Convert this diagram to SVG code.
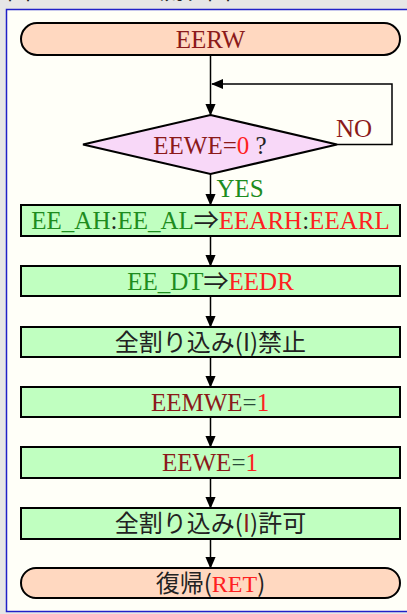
<svg xmlns="http://www.w3.org/2000/svg" width="407" height="614" viewBox="0 0 407 614">
<defs>
<marker id="ah" markerWidth="12" markerHeight="14" refX="13" refY="6" orient="auto" markerUnits="userSpaceOnUse" viewBox="0 0 14 12">
<path d="M0,0 L14,6 L0,12 Z" fill="#000"/>
</marker>
</defs>
<style>
text{font-family:"Liberation Serif","Noto Sans CJK JP",serif;font-size:25px;text-anchor:middle}
.cjk{font-family:"Noto Sans CJK JP","Liberation Serif",sans-serif;font-size:24px}
.term{fill:#ffd8c0;stroke:#000;stroke-width:2}
.box{fill:#c0ffc0;stroke:#000;stroke-width:2}
.dia{fill:#f8d8f8;stroke:#000;stroke-width:2}
.dr{fill:#8b1a1a}
.rd{fill:#ff2020}
.gn{fill:#1e8c1e}
.bk{fill:#222}
.conn line,.conn polyline{stroke:#000;stroke-width:1.5;fill:none}
</style>
<rect width="407" height="614" fill="#e6e6e6"/>
<text class="cjk bk" x="19" y="-1" font-size="24">図</text>
<text class="cjk bk" x="195" y="-1" font-size="24">流れ図</text>
<rect x="6.5" y="9.5" width="410" height="602" fill="#fffff8" stroke="#2020c8" stroke-width="1.5"/>

<g id="conn" class="conn">
<line x1="210.5" y1="56" x2="210.5" y2="115" marker-end="url(#ah)"/>
<polyline points="337,144.5 392,144.5 392,84 212,84" marker-end="url(#ah)"/>
<line x1="210.5" y1="174" x2="210.5" y2="205" marker-end="url(#ah)"/>
<line x1="210.5" y1="236" x2="210.5" y2="266" marker-end="url(#ah)"/>
<line x1="210.5" y1="296" x2="210.5" y2="327" marker-end="url(#ah)"/>
<line x1="210.5" y1="357" x2="210.5" y2="387" marker-end="url(#ah)"/>
<line x1="210.5" y1="417" x2="210.5" y2="447" marker-end="url(#ah)"/>
<line x1="210.5" y1="478" x2="210.5" y2="508" marker-end="url(#ah)"/>
<line x1="210.5" y1="539" x2="210.5" y2="568" marker-end="url(#ah)"/>
<text class="dr" x="354" y="137" font-size="24">NO</text>
<text class="gn" x="240" y="197" font-size="24">YES</text>
</g>

<g id="start">
<rect class="term" x="21" y="23" width="379" height="32" rx="16"/>
<text class="dr" x="210.5" y="48">EERW</text>
</g>

<g id="decision">
<polygon class="dia" points="210.5,115 337,144.5 210.5,174 83,144.5"/>
<text x="210" y="154"><tspan class="dr">EEWE=</tspan><tspan class="rd">0</tspan><tspan class="bk"> ?</tspan></text>
</g>

<g id="step1">
<rect class="box" x="21" y="205" width="379" height="31"/>
<text x="210.5" y="229"><tspan class="gn">EE_AH</tspan><tspan class="bk">:</tspan><tspan class="gn">EE_AL</tspan><tspan class="bk">⇒</tspan><tspan class="rd">EEARH</tspan><tspan class="bk">:</tspan><tspan class="rd">EEARL</tspan></text>
</g>

<g id="step2">
<rect class="box" x="21" y="266" width="379" height="30"/>
<text x="210.5" y="290"><tspan class="gn">EE_DT</tspan><tspan class="bk">⇒</tspan><tspan class="rd">EEDR</tspan></text>
</g>

<g id="step3">
<rect class="box" x="21" y="327" width="379" height="30"/>
<text class="cjk bk" x="210.5" y="351">全割り込み(I)禁止</text>
</g>

<g id="step4">
<rect class="box" x="21" y="387" width="379" height="30"/>
<text x="210" y="411"><tspan class="dr">EEMWE</tspan><tspan fill="#2a4a3a">=</tspan><tspan class="rd">1</tspan></text>
</g>

<g id="step5">
<rect class="box" x="21" y="447" width="379" height="31"/>
<text x="210" y="471"><tspan class="dr">EEWE</tspan><tspan fill="#2a4a3a">=</tspan><tspan class="rd">1</tspan></text>
</g>

<g id="step6">
<rect class="box" x="21" y="508" width="379" height="31"/>
<text class="cjk bk" x="210.5" y="532">全割り込み(<tspan class="dr">I</tspan>)許可</text>
</g>

<g id="end">
<rect class="term" x="21" y="568" width="379" height="30" rx="15"/>
<text class="cjk" x="210.5" y="592"><tspan class="bk">復帰(</tspan><tspan class="rd" font-family="Liberation Serif">RET</tspan><tspan class="bk">)</tspan></text>
</g>
</svg>
